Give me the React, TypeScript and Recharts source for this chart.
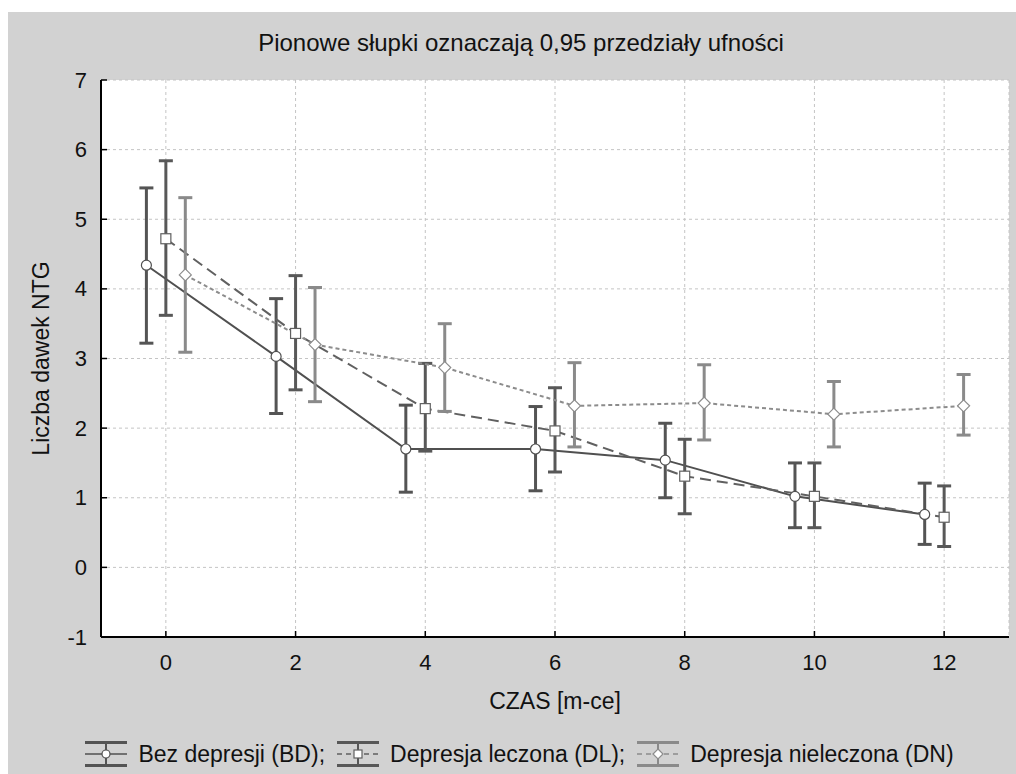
import React from "react";
import { LineChart, Line, XAxis, YAxis, CartesianGrid, ErrorBar } from "recharts";

const FONT = "'Liberation Sans', Arial, sans-serif";

// miesiące obserwacji
const months = [0, 2, 4, 6, 8, 10, 12];

// Bez depresji (BD)
const bdMean = [4.34, 3.03, 1.7, 1.7, 1.54, 1.02, 0.76];
const bdLow = [3.22, 2.21, 1.08, 1.1, 1.0, 0.57, 0.33];
const bdHigh = [5.45, 3.86, 2.33, 2.31, 2.07, 1.5, 1.21];

// Depresja leczona (DL)
const dlMean = [4.72, 3.36, 2.28, 1.96, 1.31, 1.02, 0.72];
const dlLow = [3.62, 2.55, 1.67, 1.37, 0.77, 0.57, 0.3];
const dlHigh = [5.84, 4.19, 2.93, 2.58, 1.84, 1.5, 1.17];

// Depresja nieleczona (DN)
const dnMean = [4.2, 3.2, 2.87, 2.32, 2.36, 2.2, 2.32];
const dnLow = [3.09, 2.38, 2.24, 1.73, 1.83, 1.73, 1.9];
const dnHigh = [5.31, 4.02, 3.5, 2.94, 2.91, 2.67, 2.77];

const xTicks = [0, 2, 4, 6, 8, 10, 12];
const yTicks = [-1, 0, 1, 2, 3, 4, 5, 6, 7];

const buildRows = (mean: number[], low: number[], high: number[], shift: number) =>
  months.map((m, i) => ({
    x: m + shift,
    y: mean[i],
    err: [mean[i] - low[i], high[i] - mean[i]],
  }));

type Marker = "circle" | "square" | "diamond";

const series = [
  {
    name: "Bez depresji (BD);",
    rows: buildRows(bdMean, bdLow, bdHigh, -0.3),
    line: "#505050",
    bar: "#545454",
    dash: undefined as string | undefined,
    marker: "circle" as Marker,
  },
  {
    name: "Depresja leczona (DL);",
    rows: buildRows(dlMean, dlLow, dlHigh, 0),
    line: "#606060",
    bar: "#585858",
    dash: "11 6",
    marker: "square" as Marker,
  },
  {
    name: "Depresja nieleczona (DN)",
    rows: buildRows(dnMean, dnLow, dnHigh, 0.3),
    line: "#8c8c8c",
    bar: "#8a8a8a",
    dash: "4 3",
    marker: "diamond" as Marker,
  },
];

const drawMarker = (kind: Marker, cx: number, cy: number, color: string, size: number, key?: any) => {
  if (kind === "circle")
    return <circle key={key} cx={cx} cy={cy} r={size} fill="#fff" stroke={color} strokeWidth={1.2} />;
  if (kind === "square")
    return (
      <rect key={key} x={cx - size} y={cy - size} width={size * 2} height={size * 2} fill="#fff" stroke={color} strokeWidth={1.2} />
    );
  const d = size + 1;
  return (
    <path
      key={key}
      d={`M${cx},${cy - d}L${cx + d},${cy}L${cx},${cy + d}L${cx - d},${cy}Z`}
      fill="#fff"
      stroke={color}
      strokeWidth={1.2}
    />
  );
};

const LeftTick = ({ x, y, payload }: any) => (
  <g>
    <line x1={x} y1={y} x2={x + 6} y2={y} stroke="#000" strokeWidth={1.5} />
    <text x={x - 14} y={y} textAnchor="end" dominantBaseline="central" fontSize={22} fill="#111" fontFamily={FONT}>
      {payload.value}
    </text>
  </g>
);

const BottomTick = ({ x, y, payload }: any) => (
  <g>
    <line x1={x} y1={y} x2={x} y2={y - 6} stroke="#000" strokeWidth={1.5} />
    <text x={x} y={y + 25} textAnchor="middle" dominantBaseline="central" fontSize={22} fill="#111" fontFamily={FONT}>
      {payload.value}
    </text>
  </g>
);

const TopTick = ({ x, y }: any) => <line x1={x} y1={y} x2={x} y2={y + 6} stroke="#000" strokeWidth={1.5} />;
const RightTick = ({ x, y }: any) => <line x1={x} y1={y} x2={x - 6} y2={y} stroke="#000" strokeWidth={1.5} />;

const LegendIcon = ({ s }: { s: (typeof series)[number] }) => (
  <svg width={42} height={26} style={{ display: "block" }}>
    <line x1={0} x2={42} y1={1.5} y2={1.5} stroke={s.bar} strokeWidth={3} />
    <line x1={0} x2={42} y1={24.5} y2={24.5} stroke={s.bar} strokeWidth={3} />
    <line x1={21} x2={21} y1={1.5} y2={24.5} stroke={s.bar} strokeWidth={2} />
    <line x1={0} x2={42} y1={13} y2={13} stroke={s.line} strokeWidth={1.5} strokeDasharray={s.dash ? "5 4" : undefined} />
    {drawMarker(s.marker, 21, 13, s.line, 4)}
  </svg>
);

const App = () => {
  return (
    <div
      style={{
        position: "absolute",
        left: 8,
        top: 12,
        width: 1008,
        height: 762,
        background: "#d2d2d2",
        overflow: "hidden",
        fontFamily: FONT,
      }}
    >
      <LineChart width={1008} height={762} margin={{ top: 68, right: 7, left: 33, bottom: 97 }}>
        <CartesianGrid fill="#fff" fillOpacity={1} stroke="#c4c4c4" strokeDasharray="3 3" />
        <XAxis
          dataKey="x"
          type="number"
          domain={[-1, 13]}
          ticks={xTicks}
          allowDataOverflow
          height={40}
          tickSize={0}
          tickMargin={0}
          tickLine={false}
          axisLine={{ stroke: "#000", strokeWidth: 2 }}
          tick={<BottomTick />}
          label={{ value: "CZAS [m-ce]", position: "bottom", offset: 16, fontSize: 23, fill: "#111", fontFamily: FONT }}
        />
        <XAxis
          xAxisId="top"
          orientation="top"
          type="number"
          domain={[-1, 13]}
          ticks={xTicks}
          allowDataOverflow
          height={0}
          tickSize={0}
          tickMargin={0}
          tickLine={false}
          axisLine={{ stroke: "#000", strokeWidth: 2 }}
          tick={<TopTick />}
        />
        <YAxis
          type="number"
          domain={[-1, 7]}
          ticks={yTicks}
          allowDataOverflow
          width={60}
          tickSize={0}
          tickMargin={0}
          tickLine={false}
          axisLine={{ stroke: "#000", strokeWidth: 2 }}
          tick={<LeftTick />}
          label={{
            value: "Liczba dawek NTG",
            angle: -90,
            position: "insideLeft",
            offset: 0,
            fontSize: 23,
            fill: "#111",
            fontFamily: FONT,
            style: { textAnchor: "middle" },
          }}
        />
        <YAxis
          yAxisId="r"
          orientation="right"
          type="number"
          domain={[-1, 7]}
          ticks={yTicks}
          allowDataOverflow
          width={0}
          tickSize={0}
          tickMargin={0}
          tickLine={false}
          axisLine={{ stroke: "#000", strokeWidth: 2 }}
          tick={<RightTick />}
        />
        {series.map((s) => (
          <Line
            key={s.name}
            data={s.rows}
            dataKey="y"
            name={s.name}
            type="linear"
            stroke={s.line}
            strokeWidth={2}
            strokeDasharray={s.dash}
            isAnimationActive={false}
            activeDot={false}
            dot={(p: any) => drawMarker(s.marker, p.cx, p.cy, s.line, 5, p.index)}
          >
            <ErrorBar dataKey="err" direction="y" width={7} stroke={s.bar} strokeWidth={3} />
          </Line>
        ))}
      </LineChart>

      <div
        style={{
          position: "absolute",
          left: 0,
          top: 17,
          width: 1026,
          textAlign: "center",
          fontSize: 24,
          lineHeight: "28px",
          color: "#111",
        }}
      >
        Pionowe słupki oznaczają 0,95 przedziały ufności
      </div>

      <div
        style={{
          position: "absolute",
          left: 0,
          top: 729,
          width: 1023,
          display: "flex",
          justifyContent: "center",
          alignItems: "center",
          fontSize: 23,
          lineHeight: "24px",
          color: "#111",
          whiteSpace: "nowrap",
        }}
      >
        {series.map((s, i) => (
          <React.Fragment key={s.name}>
            <div style={{ marginLeft: i === 0 ? 0 : 12, marginRight: 11 }}>
              <LegendIcon s={s} />
            </div>
            <span>{s.name}</span>
          </React.Fragment>
        ))}
      </div>
    </div>
  );
};

export default App;
